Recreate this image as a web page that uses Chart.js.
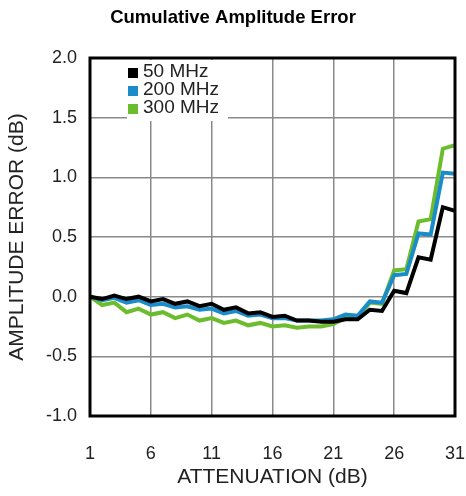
<!DOCTYPE html>
<html>
<head>
<meta charset="utf-8">
<script src="https://cdn.jsdelivr.net/npm/chart.js@4"></script>
<style>
  html, body { margin: 0; padding: 0; background: #fff; }
  #wrap { width: 466px; height: 496px; }
</style>
</head>
<body>
<div id="wrap"><canvas id="chart" width="466" height="496"></canvas></div>
<script>
const attenuation = [1, 2, 3, 4, 5, 6, 7, 8, 9, 10, 11, 12, 13, 14, 15, 16,
  17, 18, 19, 20, 21, 22, 23, 24, 25, 26, 27, 28, 29, 30, 31];

const err50 = [0.00, -0.02, 0.01, -0.02, 0.00, -0.04, -0.02, -0.06, -0.04, -0.08,
  -0.06, -0.11, -0.09, -0.14, -0.13, -0.17, -0.16, -0.20, -0.20, -0.21,
  -0.21, -0.19, -0.19, -0.11, -0.12, 0.05, 0.03, 0.33, 0.31, 0.75, 0.72];

const err200 = [0.00, -0.03, -0.01, -0.05, -0.03, -0.07, -0.06, -0.09, -0.08, -0.11,
  -0.10, -0.14, -0.12, -0.16, -0.15, -0.18, -0.18, -0.20, -0.20, -0.20,
  -0.19, -0.15, -0.16, -0.04, -0.05, 0.18, 0.19, 0.53, 0.52, 1.04, 1.03];

const err300 = [0.00, -0.07, -0.05, -0.13, -0.10, -0.15, -0.13, -0.18, -0.15, -0.20,
  -0.18, -0.22, -0.20, -0.24, -0.22, -0.25, -0.24, -0.26, -0.25, -0.25,
  -0.23, -0.18, -0.18, -0.05, -0.06, 0.22, 0.23, 0.63, 0.65, 1.24, 1.27];

const xTicks = [1, 6, 11, 16, 21, 26, 31];
const seriesNames = ['50 MHz', '200 MHz', '300 MHz'];
const seriesColors = ['#000000', '#1a8cc8', '#6cbd2e'];

const FONT = '"Liberation Sans", Arial, Helvetica, sans-serif';

function toPoints(values) {
  return attenuation.map((a, i) => ({ x: a, y: values[i] }));
}

// black frame round the plot area
const framePlugin = {
  id: 'frame',
  afterDatasetsDraw(chart) {
    const { ctx, chartArea: a } = chart;
    ctx.save();
    ctx.strokeStyle = '#000';
    ctx.lineWidth = 3;
    ctx.strokeRect(a.left, a.top, a.right - a.left, a.bottom - a.top);
    ctx.restore();
  },
};

// legend drawn inside the plot, on a white patch
const insideLegend = {
  id: 'insideLegend',
  afterDraw(chart) {
    const { ctx, chartArea: a } = chart;
    const x0 = a.left + 37;
    ctx.save();
    ctx.fillStyle = '#fff';
    ctx.fillRect(x0, a.top + 2, 101, 61);
    ctx.font = '19px ' + FONT;
    ctx.textBaseline = 'alphabetic';
    seriesNames.forEach((name, i) => {
      const base = a.top + 19 + i * 18;
      ctx.fillStyle = seriesColors[i];
      ctx.fillRect(x0 + 1, base - 9, 10, 10);
      ctx.fillStyle = '#222';
      ctx.fillText(name, x0 + 16, base);
    });
    ctx.restore();
  },
};

new Chart(document.getElementById('chart'), {
  type: 'line',
  data: {
    datasets: [err50, err200, err300].map((vals, i) => ({
      label: seriesNames[i],
      data: toPoints(vals),
      borderColor: seriesColors[i],
      backgroundColor: seriesColors[i],
      borderWidth: 4,
      pointRadius: 0,
      tension: 0,
      fill: false,
    })),
  },
  options: {
    responsive: false,
    animation: false,
    layout: { padding: 0 },
    plugins: {
      legend: { display: false },
      tooltip: { enabled: false },
      title: {
        display: true,
        text: 'Cumulative Amplitude Error',
        color: '#000',
        font: { family: FONT, size: 18.5, weight: 'bold' },
        padding: { top: 7, bottom: 28.8 },
      },
    },
    scales: {
      x: {
        type: 'linear',
        min: 1,
        max: 31,
        afterBuildTicks(scale) {
          scale.ticks = xTicks.map(v => ({ value: v }));
        },
        afterFit(scale) {
          scale.height = 80;
          scale.paddingLeft = 0;
          scale.paddingRight = 11;
        },
        ticks: {
          color: '#222',
          padding: 27,
          maxRotation: 0,
          font: { family: FONT, size: 18 },
          callback: v => String(v),
        },
        grid: { color: '#8a8a8a', lineWidth: 1.5, drawTicks: false },
        border: { display: false },
        title: {
          display: true,
          text: 'ATTENUATION (dB)',
          color: '#222',
          font: { family: FONT, size: 21 },
          padding: { top: 0, bottom: 6 },
        },
      },
      y: {
        min: -1,
        max: 2,
        afterFit(scale) { scale.width = 90; },
        ticks: {
          stepSize: 0.5,
          color: '#222',
          padding: 13,
          font: { family: FONT, size: 18 },
          callback: v => Number(v).toFixed(1),
        },
        grid: { color: '#8a8a8a', lineWidth: 1.5, drawTicks: false },
        border: { display: false },
        title: {
          display: true,
          text: 'AMPLITUDE ERROR (dB)',
          color: '#222',
          font: { family: FONT, size: 21 },
          padding: { top: 5, bottom: 0 },
        },
      },
    },
  },
  plugins: [framePlugin, insideLegend],
});
</script>
</body>
</html>
